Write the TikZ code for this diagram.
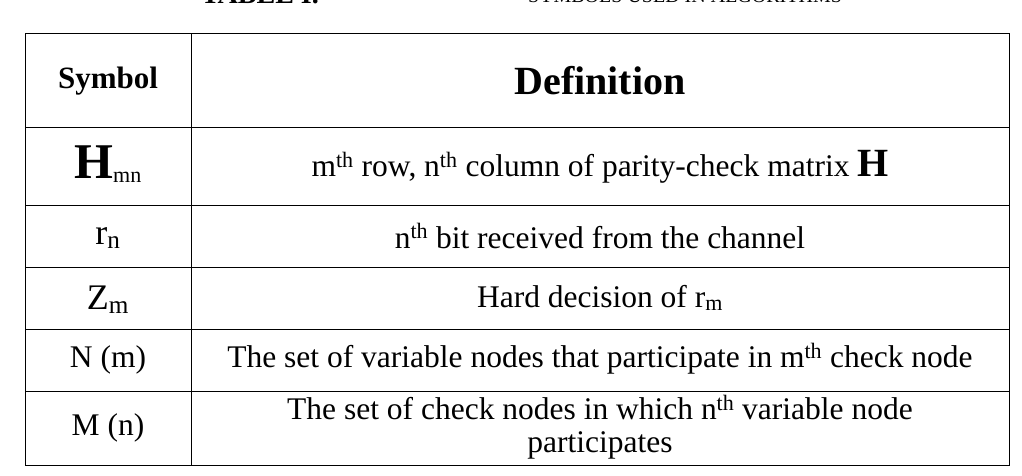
\documentclass[tikz,border=0pt]{standalone}
\usepackage{fontspec}
\setmainfont{Liberation Serif}
\begin{document}
\begin{tikzpicture}[x=1pt,y=-1pt,
  txt/.style={anchor=center,inner sep=0pt,align=center},
  bd/.style={line width=1pt}]
\useasboundingbox (0,0) rectangle (1022,476);
\begin{scope}
\clip (0,0) rectangle (1022,476);
\node[txt,font=\fontsize{28}{28}\selectfont\bfseries] (ttl) at (260,-6) {TABLE I.};
\node[txt,font=\fontsize{20}{20}\selectfont] (ttl2) at (685,-4) {SYMBOLS USED IN ALGORITHMS};
\end{scope}
\draw[bd] (25,34) rectangle (1009,465);
\draw[bd] (191,34) -- (191,465);
\foreach \y in {128,205,267,329,391} \draw[bd] (25,\y) -- (1009,\y);
\tikzset{body/.style={txt,font=\fontsize{31.5}{33}\selectfont}}
\node[txt,font=\fontsize{31}{31}\selectfont\bfseries] (h1) at (108,81) {Symbol};
\node[txt,font=\fontsize{40}{40}\selectfont\bfseries] (h2) at (600,81) {Definition};
\node[body] (s1) at (108,164) {{\fontsize{50}{50}\selectfont\bfseries H}$_{\mathrm{mn}}$};
\node[body] (d1) at (600,167) {m\textsuperscript{th} row, n\textsuperscript{th} column of parity-check matrix {\fontsize{40}{40}\selectfont\bfseries H}};
\node[body,font=\fontsize{36}{36}\selectfont] (s2) at (108,238) {r\textsubscript{n}};
\node[body] (d2) at (600,236) {n\textsuperscript{th} bit received from the channel};
\node[body,font=\fontsize{36}{36}\selectfont] (s3) at (108,300) {Z\textsubscript{m}};
\node[body] (d3) at (600,298) {Hard decision of r\textsubscript{m}};
\node[body] (s4) at (108,360) {N (m)};
\node[body] (d4) at (600,359) {The set of variable nodes that participate in m\textsuperscript{th} check node};
\node[body] (s5) at (108,428) {M (n)};
\node[body] (d5) at (600,427) {The set of check nodes in which n\textsuperscript{th} variable node\\participates};
\end{tikzpicture}
\end{document}
